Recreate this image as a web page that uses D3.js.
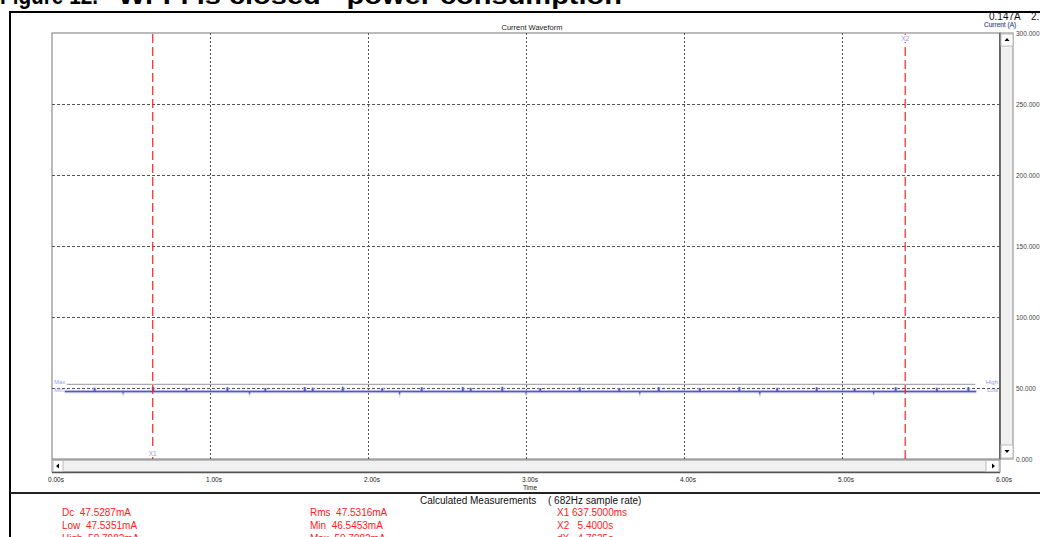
<!DOCTYPE html>
<html><head><meta charset="utf-8">
<script src="https://cdn.jsdelivr.net/npm/d3@7"></script>
<style>
body{margin:0;background:#fff;overflow:hidden}
svg{display:block;font-family:"Liberation Sans",Arial,sans-serif}
text{white-space:pre}
</style>
</head><body>
<svg id="c" width="1040" height="537"></svg>
<script>
// Axis ticks
const timeTicks = [0, 1, 2, 3, 4, 5, 6];
const timeTickLabels = ["0.00s", "1.00s", "2.00s", "3.00s", "4.00s", "5.00s", "6.00s"];
const currentTicks = [0, 50, 100, 150, 200, 250, 300];
const currentTickLabels = ["0.000", "50.000", "100.000", "150.000", "200.000", "250.000", "300.000"];

// Current trace (mA): steady level with short pulses
const dcLevel = 47.5287;
const traceStart = 0.08, traceEnd = 5.85;
const spikeTimes = [0.27, 0.64, 0.85, 1.11, 1.35, 1.60, 1.65, 1.84, 2.09, 2.34, 2.60, 2.65, 2.85, 3.09, 3.34, 3.59, 3.84, 4.10, 4.35, 4.59, 4.84, 5.08, 5.34, 5.60, 5.80];
const spikePeaks = [50.2, 50.7, 50.0, 50.5, 49.9, 50.6, 50.2, 50.8, 50.0, 50.5, 50.7, 50.1, 50.8, 49.9, 50.4, 50.0, 50.6, 50.0, 50.7, 50.2, 50.5, 49.9, 50.4, 50.1, 50.6];
const dipTimes = [0.45, 1.25, 2.20, 3.00, 3.72, 4.48, 5.20];
const dipLows = [46.8, 46.7, 46.6, 46.9, 46.7, 46.55, 46.8];
const highLevel = 50.7982;

// Cursors
const cursorTimes = [0.6375, 5.4];
const cursorNames = ["X1", "X2"];

// Measurement panel
const measureCol1 = ["Dc  47.5287mA", "Low  47.5351mA", "High  50.7982mA"];
const measureCol2 = ["Rms  47.5316mA", "Min  46.5453mA", "Max  50.7982mA"];
const measureCol3 = ["X1 637.5000ms", "X2   5.4000s", "dX   4.7625s"];

const svg = d3.select("#c");
const L = 52, R = 1000, T = 33, B = 459;
const x = d3.scaleLinear().domain([0, 6]).range([L, R]);
const y = d3.scaleLinear().domain([0, 300]).range([B, T]);

// Figure caption (clipped at the page top)
svg.append("text").attr("x", 0).attr("y", 4)
  .attr("font-size", 24).attr("font-weight", "bold").attr("fill", "#000")
  .attr("textLength", 98).attr("lengthAdjust", "spacingAndGlyphs")
  .text("Figure 12.");
svg.append("text").attr("x", 118).attr("y", 4)
  .attr("font-size", 24).attr("font-weight", "bold").attr("fill", "#000")
  .attr("textLength", 504).attr("lengthAdjust", "spacingAndGlyphs")
  .text("Wi-Fi is closed - power consumption");

// Outer frame
svg.append("line").attr("x1", 9).attr("x2", 1040).attr("y1", 12).attr("y2", 12)
  .attr("stroke", "#000").attr("stroke-width", 2);
svg.append("line").attr("x1", 10).attr("x2", 10).attr("y1", 11).attr("y2", 537)
  .attr("stroke", "#000").attr("stroke-width", 2);
svg.append("line").attr("x1", 10).attr("x2", 1040).attr("y1", 493).attr("y2", 493)
  .attr("stroke", "#222").attr("stroke-width", 2);

// Header readouts
svg.append("text").attr("x", 532).attr("y", 30).attr("text-anchor", "middle")
  .attr("font-size", 7.5).attr("fill", "#222").text("Current Waveform");
svg.append("text").attr("x", 989).attr("y", 20).attr("font-size", 10).attr("fill", "#111").text("0.147A");
svg.append("text").attr("x", 1031).attr("y", 20).attr("font-size", 10).attr("fill", "#111").text("2.");
svg.append("text").attr("x", 984).attr("y", 27).attr("font-size", 6.5).attr("fill", "#334")
  .attr("stroke", "#7a8ad8").attr("stroke-width", 0.25).text("Current (A)");

// Plot background and frame
svg.append("rect").attr("x", L).attr("y", T).attr("width", R - L).attr("height", B - T)
  .attr("fill", "#fff").attr("stroke", "#777").attr("stroke-width", 1);

// Grid
const g = svg.append("g");
g.selectAll(".vg").data(timeTicks.slice(1, -1)).join("line")
  .attr("x1", d => Math.round(x(d)) + 0.5).attr("x2", d => Math.round(x(d)) + 0.5)
  .attr("y1", T).attr("y2", B)
  .attr("stroke", "#555").attr("stroke-dasharray", "2,2").attr("stroke-width", 1);
g.selectAll(".hg").data(currentTicks.slice(1, -1)).join("line")
  .attr("y1", d => Math.round(y(d)) + 0.5).attr("y2", d => Math.round(y(d)) + 0.5)
  .attr("x1", L).attr("x2", R)
  .attr("stroke", "#555").attr("stroke-dasharray", "3,2").attr("stroke-width", 1);

// High marker line
svg.append("line").attr("x1", x(traceStart) + 2).attr("x2", x(traceEnd) - 1)
  .attr("y1", y(highLevel) - 2.5).attr("y2", y(highLevel) - 2.5)
  .attr("stroke", "#aaa").attr("stroke-width", 1.2);

// Trace points
const pts = [[traceStart, dcLevel]];
const events = [];
spikeTimes.forEach((t, i) => events.push([t, spikePeaks[i]]));
dipTimes.forEach((t, i) => events.push([t, dipLows[i]]));
events.sort((a, b) => a[0] - b[0]);
events.forEach(([t, v]) => {
  if (t <= traceStart || t >= traceEnd) return;
  pts.push([t - 0.003, dcLevel], [t, v], [t + 0.003, dcLevel]);
});
pts.push([traceEnd, dcLevel]);
const line = d3.line().x(d => x(d[0])).y(d => y(d[1]));
svg.append("path").datum(pts).attr("d", line).attr("fill", "none")
  .attr("stroke", "#c4c4f4").attr("stroke-width", 3.5).attr("opacity", 0.7);
svg.append("path").datum(pts).attr("d", line).attr("fill", "none")
  .attr("stroke", "#5656c4").attr("stroke-width", 1.4);

// Level labels
const lab = "#9a9ae8";
svg.append("text").attr("x", 54).attr("y", 384).attr("font-size", 6).attr("fill", lab).text("Max");
svg.append("text").attr("x", 54).attr("y", 392).attr("font-size", 6).attr("fill", lab).text("Min");
svg.append("text").attr("x", 998).attr("y", 384).attr("text-anchor", "end").attr("font-size", 6).attr("fill", lab).text("High");
svg.append("text").attr("x", 998).attr("y", 392).attr("text-anchor", "end").attr("font-size", 6).attr("fill", lab).text("Low");

// Cursors
svg.selectAll(".cur").data(cursorTimes).join("line")
  .attr("x1", d => x(d)).attr("x2", d => x(d)).attr("y1", T + 1).attr("y2", B)
  .attr("stroke", "#ff2020").attr("stroke-width", 1.2).attr("stroke-dasharray", "9,4");
const curLabY = [456, 41];
cursorTimes.forEach((t, i) => {
  svg.append("rect").attr("x", x(t) - 5).attr("y", curLabY[i] - 6).attr("width", 10).attr("height", 7).attr("fill", "#fff");
  svg.append("text").attr("x", x(t)).attr("y", curLabY[i]).attr("text-anchor", "middle")
    .attr("font-size", 6.5).attr("fill", lab).text(cursorNames[i]);
});

// Scrollbars
const sb = svg.append("g");
sb.append("rect").attr("x", R).attr("y", T).attr("width", 13).attr("height", B - T)
  .attr("fill", "#f0f0f0").attr("stroke", "#888");
sb.append("line").attr("x1", R).attr("x2", R).attr("y1", T).attr("y2", B).attr("stroke", "#555").attr("stroke-width", 1.5);
sb.append("rect").attr("x", R + 1).attr("y", T + 1).attr("width", 12).attr("height", 12).attr("fill", "#fff").attr("stroke", "#bbb");
sb.append("rect").attr("x", R + 1).attr("y", B - 14).attr("width", 12).attr("height", 13).attr("fill", "#fff").attr("stroke", "#bbb");
sb.append("path").attr("d", `M${R + 4.5},${T + 8} L${R + 9.5},${T + 8} L${R + 7},${T + 5} Z`).attr("fill", "#000");
sb.append("path").attr("d", `M${R + 4.5},${B - 9} L${R + 9.5},${B - 9} L${R + 7},${B - 6} Z`).attr("fill", "#000");
sb.append("rect").attr("x", L).attr("y", B + 1).attr("width", R - L).attr("height", 12)
  .attr("fill", "#f0f0f0").attr("stroke", "#888");
sb.append("line").attr("x1", L).attr("x2", R).attr("y1", B + 13.5).attr("y2", B + 13.5).attr("stroke", "#555").attr("stroke-width", 1.5);
sb.append("rect").attr("x", L + 1).attr("y", B + 1.5).attr("width", 10).attr("height", 11).attr("fill", "#fff").attr("stroke", "#bbb");
sb.append("rect").attr("x", R - 14).attr("y", B + 1.5).attr("width", 13).attr("height", 11).attr("fill", "#fff").attr("stroke", "#bbb");
sb.append("path").attr("d", `M${L + 7},${B + 4.5} L${L + 7},${B + 9.5} L${L + 4},${B + 7} Z`).attr("fill", "#000");
sb.append("path").attr("d", `M${R - 8},${B + 4.5} L${R - 8},${B + 9.5} L${R - 5},${B + 7} Z`).attr("fill", "#000");

// Axes
const xAxis = d3.axisBottom(x).tickValues(timeTicks).tickFormat((d, i) => timeTickLabels[i]).tickSize(0);
const xg = svg.append("g").attr("transform", `translate(3.5,${B + 14})`).call(xAxis);
xg.select(".domain").remove();
xg.selectAll("text").attr("font-size", 6.5).attr("fill", "#222").attr("font-family", "Liberation Sans, Arial").attr("dy", "0.9em");
svg.append("text").attr("x", x(3) + 4).attr("y", 490).attr("text-anchor", "middle")
  .attr("font-size", 6.5).attr("fill", "#222").text("Time");

const yAxis = d3.axisRight(y).tickValues(currentTicks).tickFormat((d, i) => currentTickLabels[i]).tickSize(0);
const yg = svg.append("g").attr("transform", `translate(1016,0)`).call(yAxis);
yg.select(".domain").remove();
yg.selectAll("text").attr("font-size", 6.5).attr("fill", "#444").attr("font-family", "Liberation Sans, Arial").attr("x", 0);

// Measurements panel
svg.append("text").attr("x", 420).attr("y", 504).attr("font-size", 10).attr("fill", "#111").text("Calculated Measurements");
svg.append("text").attr("x", 548).attr("y", 504).attr("font-size", 10).attr("fill", "#111").text("( 682Hz sample rate)");
const cols = [[62, measureCol1], [310, measureCol2], [557, measureCol3]];
cols.forEach(([cx, rows]) => {
  svg.selectAll(null).data(rows).join("text")
    .attr("x", cx).attr("y", (d, i) => 516 + i * 13)
    .attr("font-size", 10).attr("fill", "#ff2020").text(d => d);
});
</script>
</body></html>
